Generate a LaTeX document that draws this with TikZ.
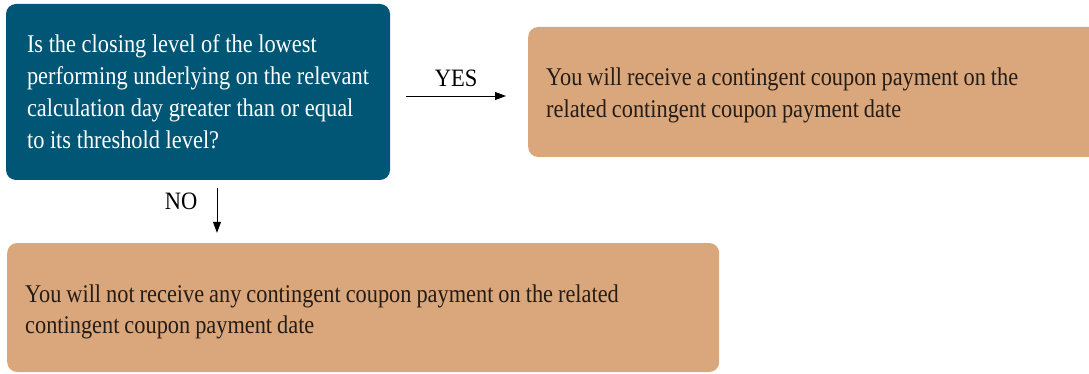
\documentclass[tikz,border=0pt]{standalone}
\usepackage{fontspec}
\setmainfont{Liberation Serif}[FakeStretch=0.9]
\newfontfamily\qfont{Liberation Serif}[FakeStretch=0.878]
\newfontfamily\afont{Liberation Serif}[FakeStretch=0.876]
\newcommand\tightsp{\spaceskip=5pt plus 1pt minus 0.5pt\relax}
\usetikzlibrary{arrows.meta}
\definecolor{qblue}{RGB}{0,86,116}
\definecolor{ansorange}{RGB}{217,167,123}
\definecolor{anstext}{RGB}{38,28,22}
\begin{document}
\begin{tikzpicture}[x=1pt,y=-1pt,
  qbox/.style={font=\qfont\fontsize{25.5}{32}\selectfont,fill=qblue,text=white,rounded corners=10pt,align=left,inner sep=0pt},
  abox/.style={font=\afont\fontsize{25.5}{32}\selectfont,fill=ansorange,text=anstext,rounded corners=10pt,align=left,inner ysep=0pt,inner xsep=18pt},
  arr/.style={draw=black,line width=0.8pt,-{Triangle[length=11pt,width=8pt]}},
  lbl/.style={font=\fontsize{25}{30}\selectfont,text=black}]
\useasboundingbox (0,0) rectangle (1089,374);
\clip (0,0) rectangle (1089,374);
\node[qbox,minimum width=384pt,minimum height=176pt] (q) at (198,92)
  {Is the closing level of the lowest\\performing underlying on the relevant\\calculation day greater than or equal\\to its threshold level?};
\node[abox,anchor=west,text width=536pt,minimum height=130pt] (yes) at (528,92)
  {\tightsp\rule{0pt}{25.5pt}You will receive a contingent coupon payment on the\\related contingent coupon payment date};
\node[abox,anchor=west,text width=676pt,minimum height=129pt] (no) at (7,307.5)
  {\tightsp\rule{0pt}{26.5pt}You will not receive any contingent coupon payment on the related\\[-1pt]contingent coupon payment date};
\draw[arr] ([xshift=16pt,yshift=-4pt]q.east) -- node[lbl,above=6pt] (yeslbl) {YES} ([xshift=-22pt,yshift=-4pt]yes.west);
\draw[arr] ([xshift=19pt,yshift=-8pt]q.south) -- node[lbl,pos=0.3,left=16pt] (nolbl) {NO} ([xshift=19pt,yshift=10pt]q.south |- no.north);
\end{tikzpicture}
\end{document}
